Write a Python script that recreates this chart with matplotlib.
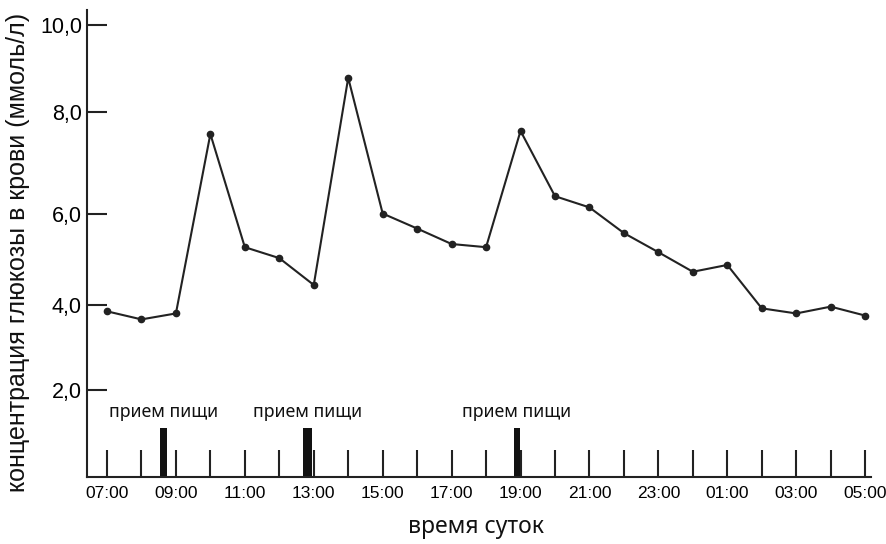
import numpy as np
import matplotlib
matplotlib.use("Agg")
import matplotlib.pyplot as plt
from matplotlib.transforms import blended_transform_factory

# часы наблюдения (7 = 07:00, 29 = 05:00 следующего дня)
hours = list(range(7, 30))
glucose = [3.84, 3.65, 3.79, 7.56, 5.26, 5.02, 4.43, 8.78, 6.00, 5.67, 5.33, 5.26,
           7.62, 6.34, 6.12, 5.57, 5.15, 4.72, 4.87, 3.91, 3.79, 3.95, 3.74]

# приемы пищи (начало и конец, в часах)
meal_start = [8.53, 12.70, 18.80]
meal_end = [8.73, 12.96, 18.98]
meal_label = "прием пищи"

y_ticks = [2, 4, 6, 8, 10]
y_ticklabels = ["2,0", "4,0", "6,0", "8,0", "10,0"]
x_ticklabels = [f"{h % 24:02d}:00" if (h - 7) % 2 == 0 else "" for h in hours]

# неравномерная шкала, как на исходном рисунке
scale_v = [0, 2, 4, 6, 8, 10, 12]
scale_p = [0, 87.5, 172.5, 263.5, 365.5, 452, 538]
def fwd(v):
    return np.interp(v, scale_v, scale_p)
def inv(p):
    return np.interp(p, scale_p, scale_v)

dark = "#222222"
fig = plt.figure(figsize=(8.87, 5.44), dpi=100)
ax = fig.add_axes([87/887, 67/544, 784/887, 467/544])
ax.set_yscale("function", functions=(fwd, inv))

ax.plot(hours, glucose, color=dark, lw=1.5, marker="o", ms=4.5)

ax.set_xlim(6.42, 29.17)
ax.set_ylim(0, 10.35)

tr = blended_transform_factory(ax.transData, ax.transAxes)
for s, e in zip(meal_start, meal_end):
    ax.axvspan(s, e, ymin=0, ymax=0.105, color="#111111", lw=0)
    ax.text((s + e) / 2, 0.139, meal_label, transform=tr, ha="center", va="center",
            fontsize=12.8, family="Noto Sans", color="#111111")

for sp in ["top", "right"]:
    ax.spines[sp].set_visible(False)
for sp in ["left", "bottom"]:
    ax.spines[sp].set_color(dark)
    ax.spines[sp].set_linewidth(1.5)

ax.set_yticks(y_ticks)
ax.set_yticklabels(y_ticklabels, family="Liberation Sans", fontsize=15.5)
ax.yaxis.set_minor_locator(matplotlib.ticker.NullLocator())
ax.tick_params(axis="y", direction="in", length=14.4, width=1.5, color=dark, pad=3.6)

ax.set_xticks(hours)
ax.set_xticklabels(x_ticklabels, family="Liberation Sans", fontsize=12.5)
ax.tick_params(axis="x", direction="in", length=19.5, width=1.5, color=dark, pad=6.5)

fig.text(476/887, 1 - 527/544, "время суток", ha="center", va="center",
         fontsize=16.5, family="Noto Sans", color="#111111")
fig.text(18/887, 1 - 252/544, "концентрация глюкозы в крови (ммоль/л)", rotation=90,
         ha="center", va="center", fontsize=18, family="Liberation Sans", color="#111111")

fig.savefig("out.png", dpi=100)
